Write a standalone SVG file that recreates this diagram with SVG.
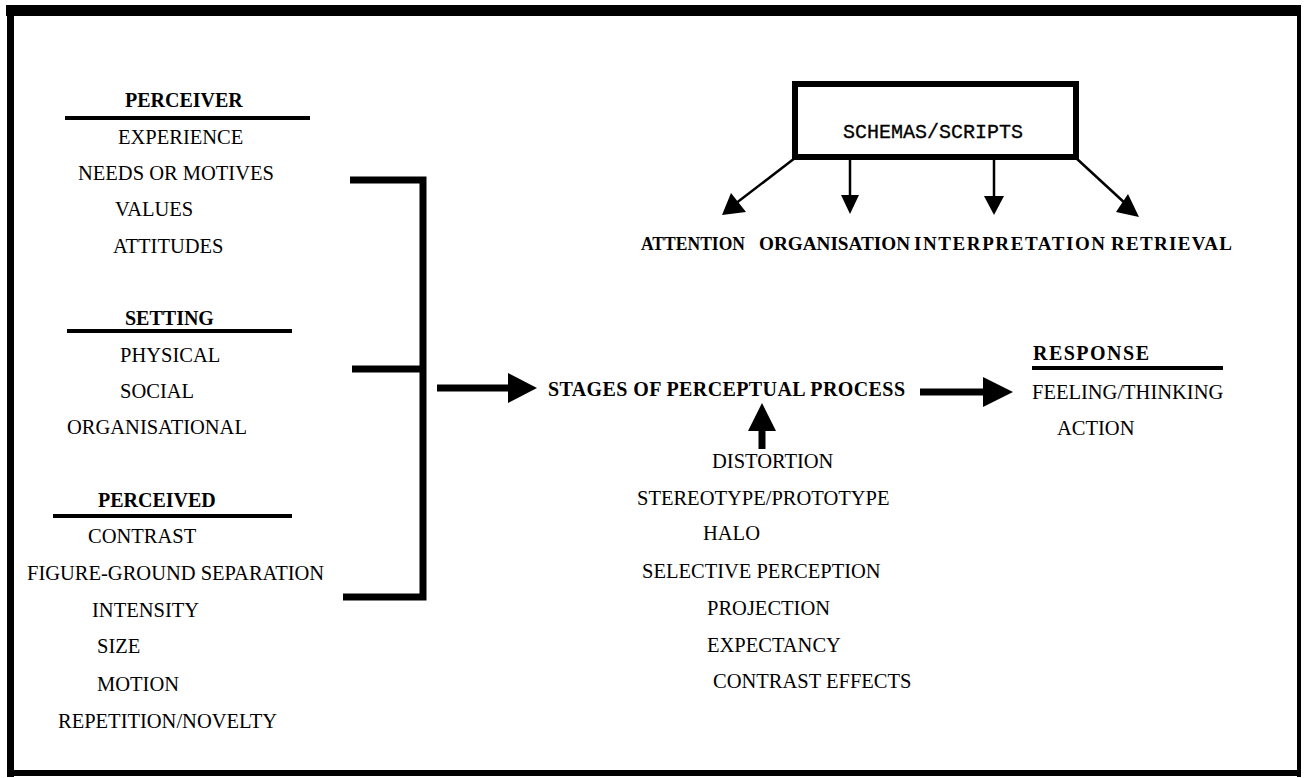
<svg xmlns="http://www.w3.org/2000/svg" width="1304" height="778" viewBox="0 0 1304 778">
  <style>
    .t { font-family: "Liberation Serif", "Times New Roman", serif; font-size: 20.5px; fill: #000; }
    .b { font-family: "Liberation Serif", "Times New Roman", serif; font-size: 20px; font-weight: bold; fill: #000; }
    .s { font-family: "Liberation Serif", "Times New Roman", serif; font-size: 19px; font-weight: bold; fill: #000; }
    .m { font-family: "Liberation Mono", "Courier New", monospace; font-size: 20px; fill: #000; stroke: #000; stroke-width: 0.3; }
    .rule { stroke: #000; stroke-width: 4; fill: none; }
    .thick { stroke: #000; stroke-width: 7; fill: none; }
    .thin { stroke: #000; stroke-width: 2.5; fill: none; }
    .head { fill: #000; }
  </style>
  <rect width="1304" height="778" fill="#fff"/>

  <!-- outer frame -->
  <g id="frame" fill="#000">
    <rect x="6" y="5" width="1295" height="11"/>
    <rect x="7" y="6" width="7" height="771"/>
    <rect x="1297" y="6" width="4" height="771"/>
    <rect x="7" y="770" width="1294" height="6"/>
  </g>

  <!-- perceiver factors -->
  <g id="perceiver">
    <text class="b" x="125" y="107">PERCEIVER</text>
    <line class="rule" x1="65" y1="118" x2="310" y2="118"/>
    <text class="t" x="118" y="144">EXPERIENCE</text>
    <text class="t" x="78" y="180">NEEDS OR MOTIVES</text>
    <text class="t" x="115" y="216">VALUES</text>
    <text class="t" x="113" y="253">ATTITUDES</text>
  </g>

  <!-- setting factors -->
  <g id="setting">
    <text class="b" x="125" y="325">SETTING</text>
    <line class="rule" x1="67" y1="331" x2="292" y2="331"/>
    <text class="t" x="120" y="362">PHYSICAL</text>
    <text class="t" x="120" y="398">SOCIAL</text>
    <text class="t" x="67" y="434">ORGANISATIONAL</text>
  </g>

  <!-- perceived factors -->
  <g id="perceived">
    <text class="b" x="98" y="507">PERCEIVED</text>
    <line class="rule" x1="53" y1="516" x2="292" y2="516"/>
    <text class="t" x="88" y="543">CONTRAST</text>
    <text class="t" x="27" y="580">FIGURE-GROUND SEPARATION</text>
    <text class="t" x="92" y="617">INTENSITY</text>
    <text class="t" x="97" y="653">SIZE</text>
    <text class="t" x="97" y="691">MOTION</text>
    <text class="t" x="58" y="728">REPETITION/NOVELTY</text>
  </g>

  <!-- schemas box -->
  <g id="schemas">
    <rect x="795" y="84" width="281" height="73" fill="none" stroke="#000" stroke-width="6"/>
    <text class="m" x="843" y="138">SCHEMAS/SCRIPTS</text>
  </g>

  <!-- stage labels -->
  <g id="stages-row">
    <text class="s" x="641" y="250" textLength="104" lengthAdjust="spacingAndGlyphs">ATTENTION</text>
    <text class="s" x="759" y="250" textLength="151" lengthAdjust="spacingAndGlyphs">ORGANISATION</text>
    <text class="s" x="914" y="250" textLength="191" lengthAdjust="spacing">INTERPRETATION</text>
    <text class="s" x="1111" y="250" textLength="121" lengthAdjust="spacing">RETRIEVAL</text>
  </g>

  <!-- central process -->
  <g id="process">
    <text class="b" x="548" y="396" textLength="357" lengthAdjust="spacing">STAGES OF PERCEPTUAL PROCESS</text>
  </g>

  <!-- response -->
  <g id="response">
    <text class="b" x="1033" y="360" textLength="116" lengthAdjust="spacing">RESPONSE</text>
    <line class="rule" x1="1032" y1="368" x2="1223" y2="368"/>
    <text class="t" x="1032" y="399">FEELING/THINKING</text>
    <text class="t" x="1057" y="435">ACTION</text>
  </g>

  <!-- errors / biases -->
  <g id="distortion">
    <text class="t" x="712" y="468">DISTORTION</text>
    <text class="t" x="637" y="505">STEREOTYPE/PROTOTYPE</text>
    <text class="t" x="703" y="540">HALO</text>
    <text class="t" x="642" y="578">SELECTIVE PERCEPTION</text>
    <text class="t" x="707" y="615">PROJECTION</text>
    <text class="t" x="707" y="652">EXPECTANCY</text>
    <text class="t" x="713" y="688">CONTRAST EFFECTS</text>
  </g>

  <!-- connectors -->
  <g id="connectors">
    <!-- bracket joining the three factor groups -->
    <path class="thick" d="M350 180 H423 V597 H343"/>
    <line class="thick" x1="352" y1="369" x2="423" y2="369"/>

    <!-- factors to process -->
    <line class="thick" x1="437" y1="388" x2="510" y2="388"/>
    <polygon class="head" points="508,373 537,388 508,403"/>

    <!-- process to response -->
    <line class="thick" x1="920" y1="392" x2="985" y2="392"/>
    <polygon class="head" points="983,377 1013,392 983,407"/>

    <!-- distortions feed back up into process -->
    <line class="thick" x1="762" y1="428" x2="762" y2="449"/>
    <polygon class="head" points="762,403 776,431 748,431"/>

    <!-- schemas to stages -->
    <line class="thin" x1="795" y1="158" x2="735" y2="204"/>
    <polygon class="head" points="722,215 731,193 746,212"/>
    <line class="thin" x1="850" y1="158" x2="850" y2="197"/>
    <polygon class="head" points="841,195 859,195 850,214"/>
    <line class="thin" x1="994" y1="158" x2="994" y2="198"/>
    <polygon class="head" points="984,196 1004,196 994,215"/>
    <line class="thin" x1="1076" y1="158" x2="1127" y2="205"/>
    <polygon class="head" points="1128,194 1139,217 1116,212"/>
  </g>
</svg>
